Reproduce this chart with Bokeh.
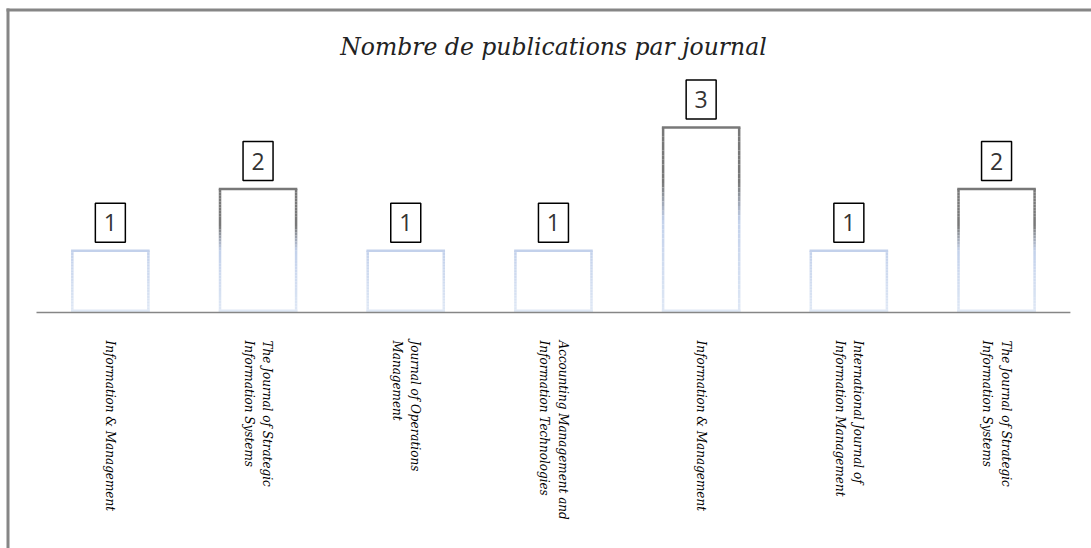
import math
from bokeh.plotting import figure
from bokeh.models import Range1d, ColumnDataSource
from bokeh.core.properties import value
from bokeh.embed import file_html
from bokeh.resources import INLINE

# ---- data ----
title_text = "Nombre de publications par journal"
journals = [
    "Information & Management",
    "The Journal of Strategic\nInformation Systems",
    "Journal of Operations\nManagement",
    "Accounting Management and\nInformation Technologies",
    "Information & Management",
    "International Journal of\nInformation Management",
    "The Journal of Strategic\nInformation Systems",
]
counts = [1, 2, 1, 1, 3, 1, 2]

# ---- layout (pixel geometry of the reference) ----
W, H = 1091, 548
PX_X0, PX_PER_CAT = 36.0, 147.7     # pixel of category axis start, width of one category
PX_Y0, PX_PER_UNIT = 312.0, 61.7    # pixel of value 0, pixels per unit


def px2x(px):
    return (px - PX_X0) / PX_PER_CAT


def py2y(py):
    return (PX_Y0 - py) / PX_PER_UNIT


p = figure(width=W, height=H, output_backend="svg", toolbar_location=None,
           x_range=Range1d(px2x(0), px2x(W)), y_range=Range1d(py2y(H), py2y(0)),
           min_border=0, min_border_left=0, min_border_right=0,
           min_border_top=0, min_border_bottom=0)
p.axis.visible = False
p.grid.visible = False
p.outline_line_color = None
p.background_fill_color = "white"
p.border_fill_color = "white"

n = len(counts)
centers = [i + 0.5 for i in range(n)]
bar_w = 0.515


def hexmix(c1, c2, t):
    a = [int(c1[i:i + 2], 16) for i in (1, 3, 5)]
    b = [int(c2[i:i + 2], 16) for i in (1, 3, 5)]
    return "#" + "".join("%02x" % round(a[k] + (b[k] - a[k]) * t) for k in range(3))


GREY, BLUE, PALE = "#787878", "#c3d1eb", "#dfe8f5"


def grad_color(t, tall):
    # t: 0 at bar top, 1 at bar bottom
    if not tall:
        return hexmix(BLUE, PALE, t)
    if t < 0.3:
        return GREY
    if t < 0.5:
        return hexmix(GREY, BLUE, (t - 0.3) / 0.2)
    return hexmix(BLUE, PALE, (t - 0.5) / 0.5)


# gradient outlined bars
vx0, vy0, vx1, vy1, vc = [], [], [], [], []
hx0, hy0, hx1, hy1, hc = [], [], [], [], []
N = 40
for c, v in zip(centers, counts):
    tall = v > 1
    left, right = c - bar_w / 2, c + bar_w / 2
    for k in range(N):
        ya = v * (1 - k / N)
        yb = v * (1 - (k + 1) / N)
        col = grad_color((k + 0.5) / N, tall)
        for xe in (left, right):
            vx0.append(xe); vx1.append(xe); vy0.append(ya); vy1.append(yb); vc.append(col)
    hx0 += [left, left]; hx1 += [right, right]
    hy0 += [v, 0.03]; hy1 += [v, 0.03]
    hc += [grad_color(0.0, tall), grad_color(1.0, tall)]

p.segment(x0="x0", y0="y0", x1="x1", y1="y1", line_color="c", line_width=2.5,
          source=ColumnDataSource(dict(x0=vx0, y0=vy0, x1=vx1, y1=vy1, c=vc)))
p.segment(x0="x0", y0="y0", x1="x1", y1="y1", line_color="c", line_width=2.5,
          line_cap="square",
          source=ColumnDataSource(dict(x0=hx0, y0=hy0, x1=hx1, y1=hy1, c=hc)))

# category axis line
p.segment(x0=[0], y0=[0], x1=[n], y1=[0], line_color="#868686", line_width=1.5)

# value label boxes
lab_y = [v + 28 / PX_PER_UNIT for v in counts]
p.rect(x=centers, y=lab_y, width=30, height=39, width_units="screen",
       height_units="screen", fill_color="white", line_color="black", line_width=1.5)
p.text(x=centers, y=lab_y, text=[str(v) for v in counts], text_align="center",
       text_baseline="middle", text_font=value("Open Sans"), text_font_size="23px",
       text_color="#333333")

# rotated category labels
p.text(x=centers, y=[py2y(340)] * n, text=journals, angle=-math.pi / 2,
       text_align="left", text_baseline="middle", text_font=value("DejaVu Serif"),
       text_font_style="italic", text_font_size="12px", text_color="black",
       text_line_height=1.3)

# title
p.text(x=[n / 2], y=[py2y(46)], text=[title_text], text_align="center",
       text_baseline="middle", text_font=value("DejaVu Serif"),
       text_font_style="italic", text_font_size="23.5px", text_color="#222222")

# chart border (top-left corner visible)
p.segment(x0=[px2x(6), px2x(7.5)], y0=[py2y(9.5), py2y(8)],
          x1=[px2x(W + 5), px2x(7.5)], y1=[py2y(9.5), py2y(H + 5)],
          line_color="#868686", line_width=3)

open("out.html", "w").write(file_html(p, INLINE))
